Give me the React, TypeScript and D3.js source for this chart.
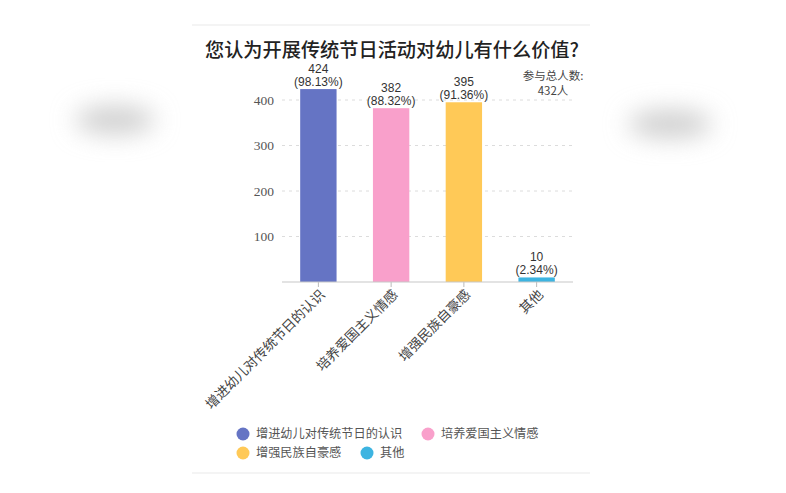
import React from "react";
import * as d3 from "d3";

const categories = ["增进幼儿对传统节日的认识", "培养爱国主义情感", "增强民族自豪感", "其他"];
const counts = [424, 382, 395, 10];
const percents = ["98.13%", "88.32%", "91.36%", "2.34%"];
const colors = ["#6574C4", "#F9A0CB", "#FFC957", "#3DB4E1"];
const yTicks = [100, 200, 300, 400];
const title = "您认为开展传统节日活动对幼儿有什么价值?";
const totalLines = ["参与总人数:", "432人"];

const W = 786;
const H = 493;
const CJK = "'Noto Sans CJK SC', 'Noto Sans', sans-serif";

export default function App() {
  const x = d3.scaleBand<string>().domain(categories).range([282, 573]).paddingInner(0.5).paddingOuter(0.25);
  const y = d3.scaleLinear().domain([0, 400]).range([282, 100]);
  const bw = x.bandwidth();

  const legendItems = [
    { i: 0, x: 243, y: 434 },
    { i: 1, x: 428, y: 434 },
    { i: 2, x: 243, y: 453 },
    { i: 3, x: 367, y: 453 },
  ];

  return (
    <div style={{ position: "fixed", left: 0, top: 0, width: W, height: H, background: "#fff" }}>
      <svg width={W} height={H} viewBox={`0 0 ${W} ${H}`}>
        <defs>
          <filter id="blur" x="-100%" y="-100%" width="300%" height="300%">
            <feGaussianBlur stdDeviation="12" />
          </filter>
        </defs>
        <rect width={W} height={H} fill="#fff" />
        <ellipse cx={115} cy={120} rx={40} ry={14} fill="#cfcfcf" filter="url(#blur)" />
        <ellipse cx={670} cy={124} rx={42} ry={14} fill="#cfcfcf" filter="url(#blur)" />
        <line x1={192} x2={590} y1={25} y2={25} stroke="#f0f0f0" strokeWidth={1.5} />
        <line x1={192} x2={590} y1={473} y2={473} stroke="#f0f0f0" strokeWidth={1.5} />

        <text x={392} y={57} textAnchor="middle" fontFamily={CJK} fontSize={19.2} fontWeight={500} fill="#222">
          {title}
        </text>

        {yTicks.map((t) => (
          <g key={t}>
            <line x1={282} x2={573} y1={y(t)} y2={y(t)} stroke="#dcdcdc" strokeDasharray="3,4" />
            <text
              x={274}
              y={y(t)}
              dy="0.35em"
              textAnchor="end"
              fontFamily="'Liberation Serif', 'DejaVu Serif', serif"
              fontSize={13.5}
              fill="#555"
            >
              {t}
            </text>
          </g>
        ))}

        {categories.map((c, i) => {
          const x0 = x(c) as number;
          const top = y(counts[i]);
          const cx = x0 + bw / 2;
          return (
            <g key={c}>
              <rect x={x0} y={top} width={bw} height={y(0) - top} fill={colors[i]} />
              <text x={cx} y={top - 16} textAnchor="middle" fontFamily="'Liberation Sans', Arial, sans-serif" fontSize={12} fill="#333">
                {counts[i]}
              </text>
              <text x={cx} y={top - 3} textAnchor="middle" fontFamily="'Liberation Sans', Arial, sans-serif" fontSize={12} fill="#333">
                ({percents[i]})
              </text>
              <line x1={cx} x2={cx} y1={282} y2={287} stroke="#bbb" />
              <text
                transform={`translate(${cx + 4},${292}) rotate(-45)`}
                dy="0.35em"
                textAnchor="end"
                fontFamily={CJK}
                fontSize={13.5}
                fill="#444"
              >
                {c}
              </text>
            </g>
          );
        })}
        <line x1={282} x2={573} y1={282} y2={282} stroke="#c8c8c8" strokeWidth={1.2} />

        {totalLines.map((t, k) => (
          <text key={k} x={553} y={80 + k * 15} textAnchor="middle" fontFamily={CJK} fontSize={11.5} fill="#444">
            {t}
          </text>
        ))}

        {legendItems.map((l) => (
          <g key={l.i}>
            <circle cx={l.x} cy={l.y} r={6.5} fill={colors[l.i]} />
            <text x={l.x + 13} y={l.y} dy="0.35em" fontFamily={CJK} fontSize={12.2} fill="#555">
              {categories[l.i]}
            </text>
          </g>
        ))}
      </svg>
    </div>
  );
}
